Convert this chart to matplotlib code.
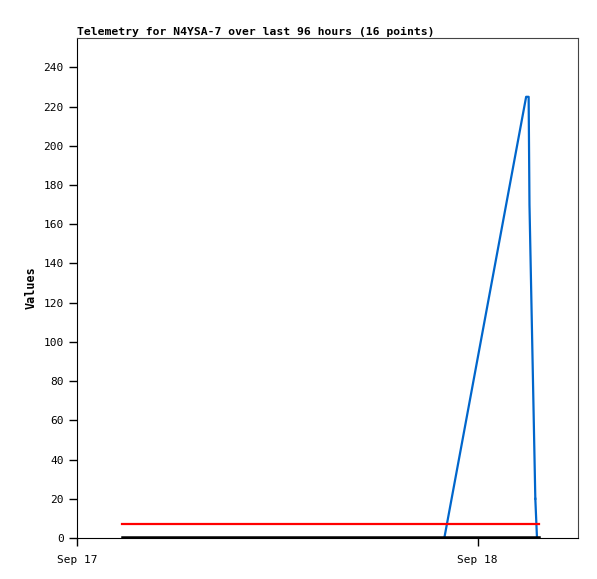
import datetime as dt
import matplotlib
matplotlib.use('Agg')
import matplotlib.pyplot as plt
import matplotlib.dates as mdates

# telemetry samples, hours after Sep 17 00:00
start = dt.datetime(2023, 9, 17)
hours = [2.7, 22.0, 26.9, 27.05, 27.1, 27.45, 27.55, 27.65]
blue_vals = [0, 0, 225, 225, 170, 20, 0, 0]
red_vals = [7.2, 7.2, 7.2, 7.2, 7.2, 7.2, 7.2, 7.2]
black_vals = [0.3, 0.3, 0.3, 0.3, 0.3, 0.3, 0.3, 0.3]

times = [start + dt.timedelta(hours=h) for h in hours]

plt.rcParams['font.family'] = ['DejaVu Sans Mono']
fig = plt.figure(figsize=(5.97, 5.79), dpi=100)
ax = fig.add_axes([0.129, 0.0708, 0.839, 0.8636])

ax.plot(times[1:6], blue_vals[1:6], color='#0066cc', lw=1.6)
ax.plot(times[5:], blue_vals[5:], color='#0066cc', lw=1.6)
ax.plot(times, red_vals, color='#ff0000', lw=1.6)
ax.plot(times, black_vals, color='black', lw=1.8)

ax.set_xlim(start, start + dt.timedelta(hours=30))
ax.set_ylim(0, 255)
ax.set_yticks(range(0, 241, 20))
ax.xaxis.set_major_locator(mdates.DayLocator())
ax.xaxis.set_major_formatter(mdates.DateFormatter('%b %d'))
ax.tick_params(labelsize=8, length=6, width=1, direction='out')
ax.tick_params(axis='x', pad=6)
ax.set_ylabel('Values', fontsize=8.5, fontweight='bold')
ax.set_title('Telemetry for N4YSA-7 over last 96 hours (16 points)',
             loc='left', fontsize=8.2, fontweight='bold', pad=2)
for s in ['top', 'right']:
    ax.spines[s].set_color('#444444')
for s in ['left', 'bottom']:
    ax.spines[s].set_color('black')

fig.savefig('out.png', dpi=100)
